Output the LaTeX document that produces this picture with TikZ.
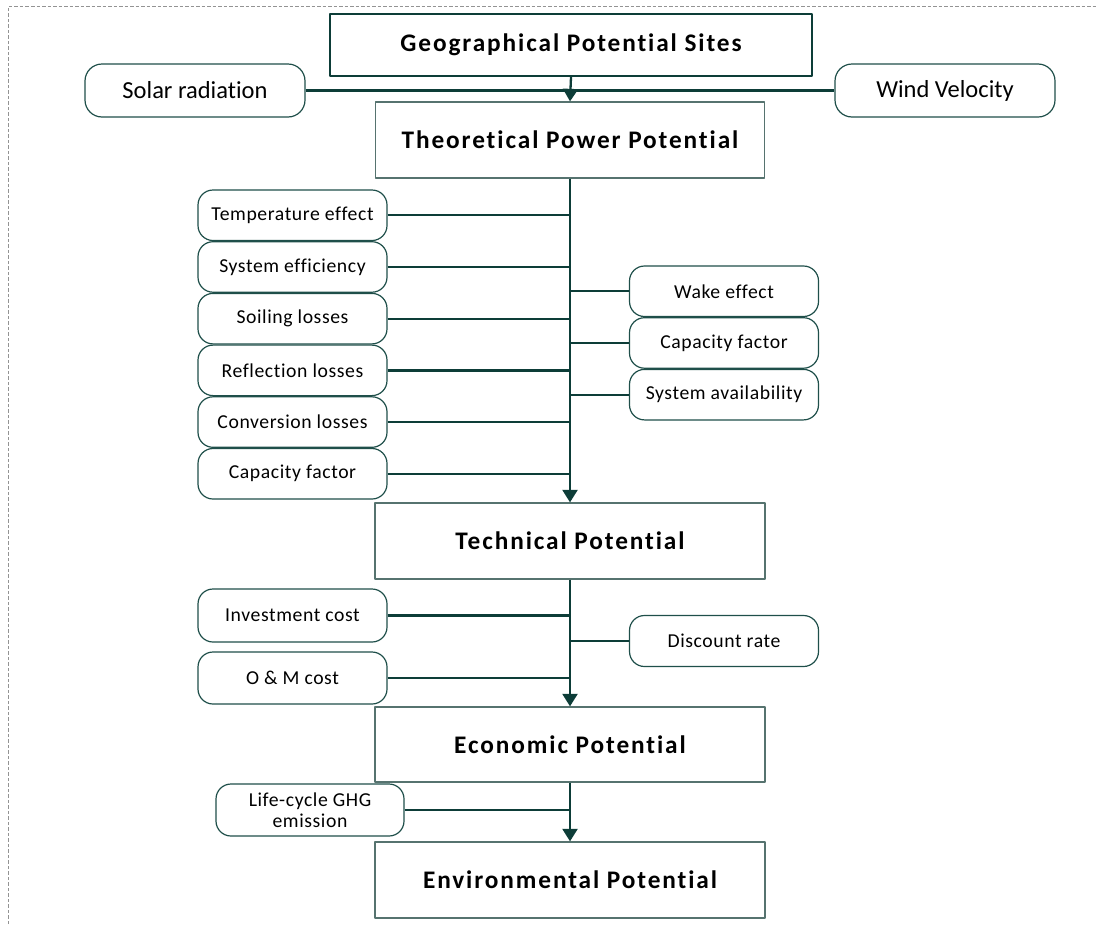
\documentclass[tikz,border=0pt]{standalone}
\usepackage{fontspec}
\setmainfont[Ligatures=NoCommon]{Carlito}
\usetikzlibrary{arrows.meta,positioning}
\definecolor{linkc}{HTML}{0D3D38}
\definecolor{roundc}{HTML}{1F4F4A}
\definecolor{boxc}{HTML}{56736F}
\begin{document}
\begin{tikzpicture}[x=1pt, y=-1pt, line join=round,
    >={Triangle[width=15pt,length=12.5pt]},
    stage/.style={draw=boxc, line width=1.3pt, inner sep=0pt, minimum width=390pt, minimum height=76pt,
      font={\fontsize{25.3}{30}\selectfont\bfseries\addfontfeatures{LetterSpace=7.5}}},
    factor/.style={draw=roundc, line width=1.2pt, rounded corners=15pt, inner sep=0pt,
      minimum width=189pt, minimum height=50.5pt, align=center,
      font={\fontsize{19.7}{21.5}\selectfont\addfontfeatures{LetterSpace=3}}},
    source/.style={factor, rounded corners=17pt, minimum width=220pt, minimum height=53pt,
      font={\fontsize{24.5}{28}\selectfont}},
    link/.style={draw=linkc, line width=2.3pt}]
  \def\xs{570} % spine
  \useasboundingbox (0,0) rectangle (1097,924);
  \draw[gray!85, line width=1pt, dash pattern=on 3.5pt off 2pt] (8.5,924) -- (8.5,6) -- (1097,6);

  % main stages
  \node[stage, draw=linkc, line width=2pt, minimum width=482pt, minimum height=62pt] (geo) at (571,45) {Geographical Potential Sites};
  \node[stage, minimum width=389pt] (theo) at (\xs,140) {Theoretical Power Potential};
  \node[stage] (tech) at (\xs,541) {Technical Potential};
  \node[stage, minimum height=75pt] (econ) at (\xs,744.5) {Economic Potential};
  \node[stage] (env) at (\xs,880) {Environmental Potential};

  % resources
  \node[source] (solar) at (195,90.5) {Solar radiation};
  \node[source] (wind) at (945,90.5) {Wind Velocity};

  % solar losses
  \node[factor] (temp) at (292.5,215.25) {Temperature effect};
  \node[factor, below=0pt of temp] (eff) {System efficiency};
  \node[factor, below=0pt of eff] (soil) {Soiling losses};
  \node[factor, below=0pt of soil] (refl) {Reflection losses};
  \node[factor, below=0pt of refl] (conv) {Conversion losses};
  \node[factor, below=0pt of conv] (capS) {Capacity factor};

  % wind losses
  \node[factor] (wake) at (724,291.25) {Wake effect};
  \node[factor, below=0pt of wake] (capW) {Capacity factor};
  \node[factor, below=0pt of capW] (avail) {System availability};

  % costs
  \node[factor, minimum height=53pt] (inv) at (292.5,615.5) {Investment cost};
  \node[factor, minimum height=52pt] (om) at (292.5,678) {O \& M cost};
  \node[factor, minimum height=51pt] (disc) at (724,641) {Discount rate};
  \node[factor, minimum width=188pt, minimum height=52pt] (ghg) at (310,810) {Life-cycle GHG\\emission};

  % connectors
  \draw[link] (solar.east) -- (wind.west);
  \draw[link,->] (geo.south) -- (theo.north);
  \draw[link,->] (theo.south) -- (tech.north);
  \draw[link,->] (tech.south) -- (econ.north);
  \draw[link,->] (econ.south) -- (env.north);
  \foreach \n in {temp,eff,soil,refl,conv,capS,inv,om,ghg}
    \draw[link] (\n.east) -- (\n.east -| theo.south);
  \foreach \n in {wake,capW,avail,disc}
    \draw[link] (\n.west) -- (\n.west -| theo.south);
\end{tikzpicture}
\end{document}
